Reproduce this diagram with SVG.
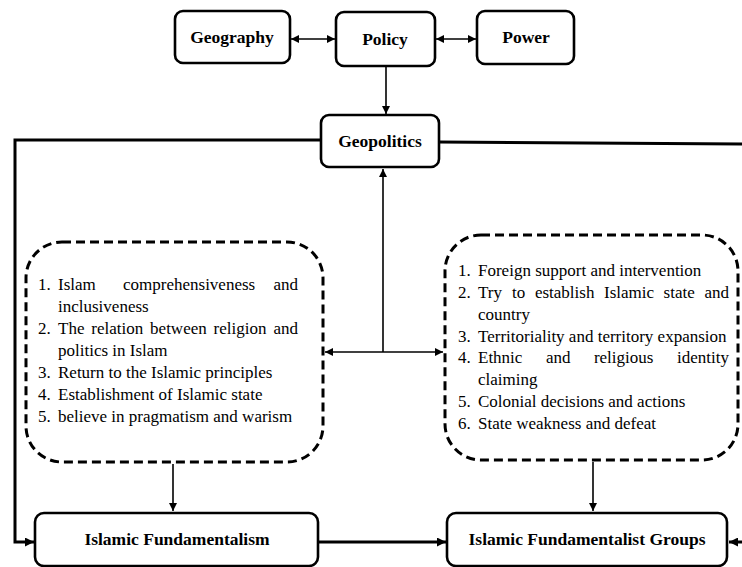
<svg xmlns="http://www.w3.org/2000/svg" width="742" height="567" viewBox="0 0 742 567">
<style>
.box{fill:#fff;stroke:#000;stroke-width:2.6}
.dash{fill:#fff;stroke:#000;stroke-width:3;stroke-dasharray:9 5}
.title{font-family:"Liberation Serif","Times New Roman",serif;font-weight:bold;font-size:17.5px;text-anchor:middle;fill:#000}
.body{font-family:"Liberation Serif","Times New Roman",serif;font-size:17px;fill:#000}
.thin{fill:none;stroke:#000;stroke-width:1.6}
.thick{fill:none;stroke:#000;stroke-width:3}
</style>
<defs>
<marker id="ah" viewBox="0 0 10 10" refX="10" refY="5" markerWidth="9" markerHeight="8" markerUnits="userSpaceOnUse" orient="auto-start-reverse"><path d="M0,0 L10,5 L0,10 z" fill="#000"/></marker>
<marker id="ahb" viewBox="0 0 10 10" refX="10" refY="5" markerWidth="10" markerHeight="9" markerUnits="userSpaceOnUse" orient="auto-start-reverse"><path d="M0,0 L10,5 L0,10 z" fill="#000"/></marker>
</defs>

<g id="connectors">
<line class="thin" x1="291" y1="39" x2="335" y2="39" marker-start="url(#ah)" marker-end="url(#ah)"/>
<line class="thin" x1="436" y1="39" x2="476" y2="39" marker-start="url(#ah)" marker-end="url(#ah)"/>
<line class="thin" x1="386" y1="67" x2="386" y2="114" marker-end="url(#ah)"/>
<polyline class="thick" points="321,140 15,140 15,542 34,542" marker-end="url(#ahb)"/>
<polyline class="thick" points="439,142 742,144"/>
<line class="thick" x1="742" y1="542" x2="729" y2="542" marker-end="url(#ahb)"/>
<line class="thin" x1="383" y1="352" x2="383" y2="169" marker-end="url(#ah)"/>
<line class="thin" x1="325" y1="352" x2="443" y2="352" stroke-width="2" marker-start="url(#ah)" marker-end="url(#ah)"/>
<line class="thin" x1="173" y1="464" x2="173" y2="511" marker-end="url(#ah)"/>
<line class="thin" x1="593" y1="462" x2="593" y2="511" marker-end="url(#ah)"/>
<line class="thick" x1="319" y1="542" x2="446" y2="542" marker-end="url(#ahb)"/>
</g>

<g id="geography">
<rect class="box" x="175" y="11" width="115" height="52" rx="8"/>
<text class="title" x="232" y="43">Geography</text>
</g>
<g id="policy">
<rect class="box" x="336" y="12" width="99" height="54" rx="8"/>
<text class="title" x="385" y="45">Policy</text>
</g>
<g id="power">
<rect class="box" x="477" y="11" width="97" height="53" rx="8"/>
<text class="title" x="526" y="43">Power</text>
</g>
<g id="geopolitics">
<rect class="box" x="321" y="115" width="118" height="52" rx="8"/>
<text class="title" x="380" y="147">Geopolitics</text>
</g>

<g id="factors-left">
<rect class="dash" x="26" y="242" width="297" height="220" rx="36"/>
<text class="body"><tspan x="38" y="290">1.</tspan><tspan x="58" y="290">Islam</tspan><tspan x="123" y="290">comprehensiveness</tspan><tspan x="298" y="290" text-anchor="end">and</tspan></text>
<text class="body" x="58" y="312">inclusiveness</text>
<text class="body"><tspan x="38" y="334">2.</tspan><tspan x="58" y="334">The</tspan><tspan x="91.3" y="334">relation</tspan><tspan x="150.1" y="334">between</tspan><tspan x="213.6" y="334">religion</tspan><tspan x="298" y="334" text-anchor="end">and</tspan></text>
<text class="body" x="58" y="356">politics in Islam</text>
<text class="body"><tspan x="38" y="378">3.</tspan><tspan x="58" y="378">Return to the Islamic principles</tspan></text>
<text class="body"><tspan x="38" y="400">4.</tspan><tspan x="58" y="400">Establishment of Islamic state</tspan></text>
<text class="body"><tspan x="38" y="422">5.</tspan><tspan x="58" y="422">believe in pragmatism and warism</tspan></text>
</g>

<g id="factors-right">
<rect class="dash" x="445" y="235" width="293" height="225" rx="36"/>
<text class="body"><tspan x="458" y="276">1.</tspan><tspan x="478" y="276">Foreign support and intervention</tspan></text>
<text class="body"><tspan x="458" y="298">2.</tspan><tspan x="478" y="298">Try</tspan><tspan x="512.1" y="298">to</tspan><tspan x="534.9" y="298">establish</tspan><tspan x="604" y="298">Islamic</tspan><tspan x="663.6" y="298">state</tspan><tspan x="729" y="298" text-anchor="end">and</tspan></text>
<text class="body" x="478" y="320">country</text>
<text class="body"><tspan x="458" y="342">3.</tspan><tspan x="478" y="342">Territoriality and territory expansion</tspan></text>
<text class="body"><tspan x="458" y="363">4.</tspan><tspan x="478" y="363">Ethnic</tspan><tspan x="545.9" y="363">and</tspan><tspan x="593.9" y="363">religious</tspan><tspan x="729" y="363" text-anchor="end">identity</tspan></text>
<text class="body" x="478" y="385">claiming</text>
<text class="body"><tspan x="458" y="407">5.</tspan><tspan x="478" y="407">Colonial decisions and actions</tspan></text>
<text class="body"><tspan x="458" y="429">6.</tspan><tspan x="478" y="429">State weakness and defeat</tspan></text>
</g>

<g id="islamic-fundamentalism">
<rect class="box" x="35" y="513" width="283" height="53" rx="9"/>
<text class="title" x="177" y="545">Islamic Fundamentalism</text>
</g>
<g id="islamic-fundamentalist-groups">
<rect class="box" x="447" y="513" width="280" height="53" rx="9"/>
<text class="title" x="587" y="545">Islamic Fundamentalist Groups</text>
</g>
</svg>
